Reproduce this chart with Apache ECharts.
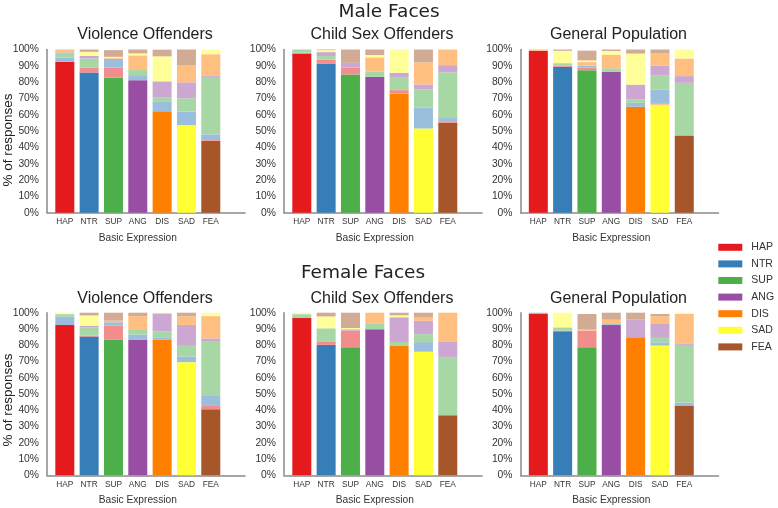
<!DOCTYPE html>
<html><head><meta charset="utf-8">
<script src="https://cdn.jsdelivr.net/npm/echarts@6/dist/echarts.min.js"></script>
<style>html,body{margin:0;padding:0;background:#fff}#c{width:778px;height:508px}</style>
</head><body><div id="c"></div><script>
// Expressions (bars = presented expression; stacked segments = responses)
const categories = ['HAP', 'NTR', 'SUP', 'ANG', 'DIS', 'SAD', 'FEA'];
const strongColors = ['#e41a1c', '#377eb8', '#4daf4a', '#984ea3', '#ff7f00', '#ffff33', '#a65628'];
const lightColors = ['#f28d8e', '#9bbedc', '#a6d7a5', '#cca7d1', '#ffbf80', '#ffff99', '#d2ab94'];
const rowTitles = ['Male Faces', 'Female Faces'];
const panelTitles = ['Violence Offenders', 'Child Sex Offenders', 'General Population'];

// rows: presented expression (HAP..FEA); columns: response (HAP..FEA), % of responses
const maleViolence = [
  [92.4, 2.6, 3.0, 0.3, 1.7, 0, 0],
  [3.1, 85.9, 5.5, 1.6, 0, 2.5, 1.4],
  [6.3, 5.3, 82.7, 0, 0.6, 0.6, 4.1],
  [0, 3.1, 3.1, 81.2, 9.0, 1.2, 2.4],
  [0, 6.1, 2.2, 10.0, 62.2, 15.3, 4.1],
  [0, 8.2, 8.2, 9.8, 10.6, 53.7, 9.5],
  [0.5, 3.5, 35.2, 0.6, 13.3, 2.9, 44.0]
];
const maleChild = [
  [97.6, 0.4, 2.0, 0, 0, 0, 0],
  [2.4, 91.4, 2.2, 2.4, 0, 1.2, 0.4],
  [4.3, 0, 84.7, 2.8, 0, 0, 8.2],
  [0, 0, 3.1, 83.3, 8.8, 1.4, 3.4],
  [2.0, 0, 7.6, 3.0, 73.1, 14.3, 0],
  [0, 12.9, 11.0, 3.1, 13.5, 51.6, 7.9],
  [0.5, 2.4, 28.0, 4.4, 9.6, 0, 55.1]
];
const maleGeneral = [
  [99.2, 0, 0, 0, 0.8, 0, 0],
  [0.6, 89.4, 1.2, 0.4, 0, 7.6, 0.8],
  [1.6, 1.2, 87.3, 0, 2.2, 1.0, 6.0],
  [0, 0, 2.2, 86.3, 8.4, 2.2, 0.9],
  [0, 2.4, 2.0, 9.2, 64.9, 19.0, 2.5],
  [0.4, 8.8, 8.8, 5.9, 7.3, 66.3, 2.5],
  [0, 0.6, 32.0, 4.1, 10.8, 5.5, 47.0]
];
const femaleViolence = [
  [92.4, 5.3, 1.4, 0, 0, 0.9, 0],
  [0.6, 85.3, 5.1, 1.0, 0, 6.3, 1.7],
  [8.8, 2.0, 83.3, 0, 1.0, 0, 4.9],
  [0, 3.3, 3.3, 83.3, 8.0, 0, 2.1],
  [0, 1.4, 3.7, 11.0, 83.5, 0.4, 0],
  [0, 3.5, 6.5, 12.9, 5.3, 69.6, 2.2],
  [2.5, 5.7, 33.8, 1.6, 13.7, 2.0, 40.6]
];
const femaleChild = [
  [96.7, 0, 2.4, 0, 0, 0.9, 0],
  [2.2, 80.2, 8.0, 0, 0, 7.3, 2.3],
  [10.2, 0, 78.8, 0.8, 0, 0.8, 9.4],
  [0, 0, 3.7, 89.8, 6.5, 0, 0],
  [0, 0, 2.5, 15.2, 79.5, 1.2, 1.6],
  [0, 5.9, 4.9, 8.2, 2.0, 76.0, 3.0],
  [0, 0, 35.5, 9.6, 18.0, 0, 36.9]
];
const femaleGeneral = [
  [99.2, 0.8, 0, 0, 0, 0, 0],
  [0.4, 88.6, 2.0, 0, 0, 9.0, 0],
  [10.2, 0, 78.8, 0, 0.6, 0, 9.6],
  [0, 0.6, 0, 92.4, 2.7, 0, 4.3],
  [0, 0, 0, 10.8, 84.9, 0, 4.3],
  [0, 2.0, 2.7, 9.0, 4.3, 79.8, 1.4],
  [0, 1.8, 35.4, 0.6, 18.4, 0.8, 43.0]
];

const panels = [maleViolence, maleChild, maleGeneral, femaleViolence, femaleChild, femaleGeneral];

// layout
const axisLeft = [47, 284, 520.5];
const rowTop = [49.5, 312.7];
const rowHeight = [163.2, 162.6];
const axisWidth = 198;
const barOffset = 5.65, barAreaWidth = 170.3;
const SANS = 'Liberation Sans, Arial, sans-serif';
const DJV = 'DejaVu Sans, sans-serif';
const txt = '#333';
const spine = { show: true, lineStyle: { color: '#8a8a8a', width: 1.5 } };

const grid = [], xAxis = [], yAxis = [], series = [];
panels.forEach((M, p) => {
  const r = Math.floor(p / 3), c = p % 3;
  // axis-only grid (spines + y labels)
  grid.push({ left: axisLeft[c], top: rowTop[r], width: axisWidth, height: rowHeight[r] });
  // bar grid
  grid.push({ left: axisLeft[c] + barOffset, top: rowTop[r], width: barAreaWidth, height: rowHeight[r] });
  xAxis.push({ gridIndex: 2 * p, type: 'value', min: 0, max: 1, axisLine: spine, axisTick: { show: false }, axisLabel: { show: false }, splitLine: { show: false } });
  yAxis.push({ gridIndex: 2 * p, type: 'value', min: 0, max: 100, interval: 10, axisLine: spine, axisTick: { show: false }, splitLine: { show: false },
    axisLabel: { formatter: '{value}%', fontSize: 10.3, color: txt, fontFamily: SANS, margin: 8 } });
  xAxis.push({ gridIndex: 2 * p + 1, type: 'category', data: categories, axisLine: { show: false }, axisTick: { show: false },
    axisLabel: { fontSize: 8.3, color: txt, fontFamily: SANS, margin: 5, interval: 0 },
    name: 'Basic Expression', nameLocation: 'middle', nameGap: 20, nameTextStyle: { fontSize: 10.2, color: txt, fontFamily: SANS } });
  yAxis.push({ gridIndex: 2 * p + 1, type: 'value', min: 0, max: 100, show: false });
  categories.forEach((name, k) => {
    series.push({ type: 'bar', name: name, xAxisIndex: 2 * p + 1, yAxisIndex: 2 * p + 1, stack: 's' + p, barWidth: 19,
      itemStyle: { color: strongColors[k] }, emphasis: { disabled: true },
      data: M.map((row, i) => (i === k ? row[k] : 0)) });
  });
  categories.forEach((name, k) => {
    series.push({ type: 'bar', name: name + ' (other)', xAxisIndex: 2 * p + 1, yAxisIndex: 2 * p + 1, stack: 's' + p, barWidth: 19,
      itemStyle: { color: lightColors[k] }, emphasis: { disabled: true },
      data: M.map((row, i) => (i === k ? 0 : row[k])) });
  });
});

const graphic = [];
graphic.push({ type: 'text', x: 389, y: 12, style: { text: rowTitles[0], font: '18.5px ' + DJV, fill: '#222', textAlign: 'center', textVerticalAlign: 'middle' } });
graphic.push({ type: 'text', x: 363, y: 273, style: { text: rowTitles[1], font: '18.5px ' + DJV, fill: '#222', textAlign: 'center', textVerticalAlign: 'middle' } });
const titleY = [35, 298.3];
[0, 1].forEach(r => {
  panelTitles.forEach((t, c) => {
    graphic.push({ type: 'text', x: axisLeft[c] + 98, y: titleY[r], style: { text: t, font: '16px ' + SANS, fill: '#222', textAlign: 'center', textVerticalAlign: 'middle' } });
  });
});
const yNameY = [140, 400];
yNameY.forEach(yy => {
  graphic.push({ type: 'text', x: 8, y: yy, rotation: Math.PI / 2, style: { text: '% of responses', font: '13.5px ' + SANS, fill: '#222', textAlign: 'center', textVerticalAlign: 'middle' } });
});

const chart = echarts.init(document.getElementById('c'));
chart.setOption({
  animation: false,
  backgroundColor: '#fff',
  grid, xAxis, yAxis, series, graphic,
  legend: {
    data: categories, orient: 'vertical', left: 718.3, top: 241.3, padding: 0, itemWidth: 24, itemHeight: 7, itemGap: 4.6, icon: 'rect',
    textStyle: { fontSize: 10.5, lineHeight: 12, color: txt, fontFamily: SANS, padding: [0, 0, 0, 4] },
    selectedMode: false
  }
});
</script></body></html>
